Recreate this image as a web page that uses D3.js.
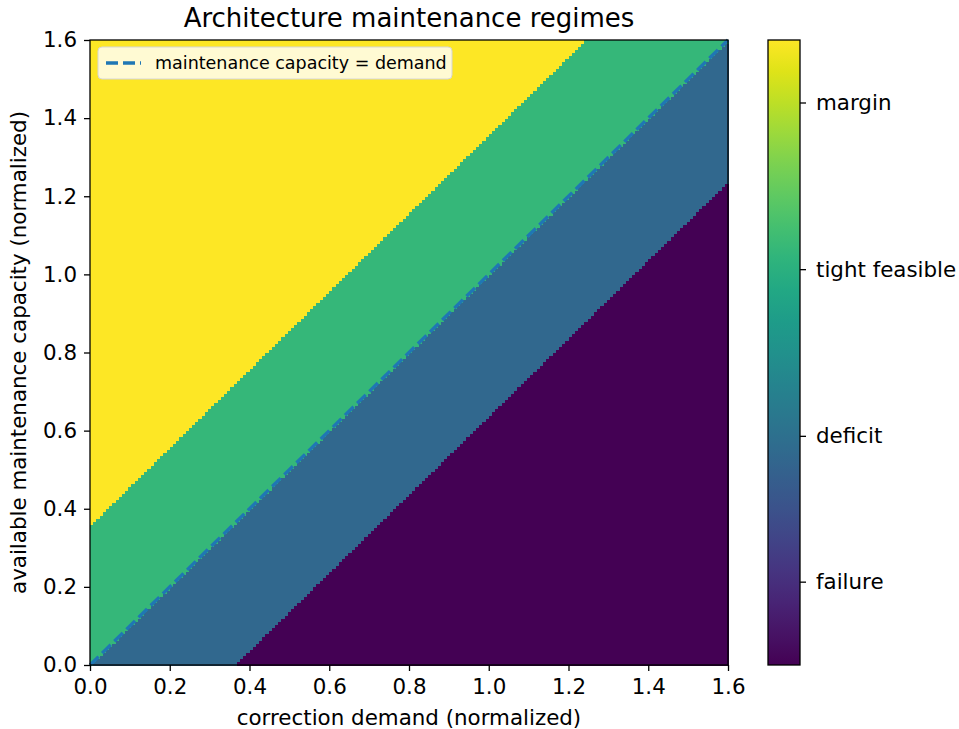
<!DOCTYPE html>
<html>
<head>
<meta charset="utf-8">
<script src="https://cdn.jsdelivr.net/npm/d3@7"></script>
<style>
    body { margin: 0; background: #fff; }
    text { font-family: "DejaVu Sans", sans-serif; fill: #000; }
</style>
</head>
<body>
<script>
// regimes, from worst to best
let regimeNames = ["failure", "deficit", "tight feasible", "margin"];
// colour index of each regime (0..3, viridis)
let regimeValues = [0, 1, 2, 3];
// capacity - demand thresholds between the regimes
let regimeThresholds = [-0.36, 0, 0.36];
// where the colorbar ticks sit (colorbar value units)
let cbarTickValues = [0.125, 1, 2, 3];
let axisTicks = [0.0, 0.2, 0.4, 0.6, 0.8, 1.0, 1.2, 1.4, 1.6];
let gridSize = 200;
let axisMax = 1.6;

let w = 959,
    h = 729;

let svg = d3.select("body")
    .append("svg")
    .attr("width", w)
    .attr("height", h);

let plotLeft = 90, plotRight = 728, plotTop = 40, plotBottom = 665;
let tickFont = "21.4px";

let x = d3.scaleLinear().domain([0, axisMax]).range([plotLeft, plotRight]);
let y = d3.scaleLinear().domain([0, axisMax]).range([plotBottom, plotTop]);
let color = d3.scaleSequential(d3.interpolateViridis).domain([0, 3]);

let step = axisMax / gridSize;
// thresholds in whole grid cells, so the steps come out even
let cellThresholds = regimeThresholds.map(function(t) { return Math.round(t / step); });

function regimeOf(i, j) {
    let diff = j - i;
    let r = 0;
    cellThresholds.forEach(function(t) {
        if (diff >= t) r++;
    });
    return regimeValues[r];
}

// build the grid row by row, merging runs of equal regime
let runs = [];
for (let j = 0; j < gridSize; j++) {
    let start = 0;
    let cur = regimeOf(0, j);
    for (let i = 1; i <= gridSize; i++) {
        let r = i < gridSize ? regimeOf(i, j) : -1;
        if (r !== cur) {
            runs.push({ x0: start * step, x1: i * step, y0: j * step, y1: (j + 1) * step, v: cur });
            start = i;
            cur = r;
        }
    }
}

svg.append("g")
    .attr("shape-rendering", "crispEdges")
    .selectAll("rect")
    .data(runs)
    .enter()
    .append("rect")
    .attr("x", function(d) { return x(d.x0); })
    .attr("width", function(d) { return x(d.x1) - x(d.x0) + 0.5; })
    .attr("y", function(d) { return y(d.y1); })
    .attr("height", function(d) { return y(d.y0) - y(d.y1) + 0.5; })
    .style("fill", function(d) { return color(d.v); });

// capacity = demand line
svg.append("line")
    .attr("x1", x(0)).attr("y1", y(0))
    .attr("x2", x(axisMax)).attr("y2", y(axisMax))
    .style("stroke", "#1f77b4")
    .style("stroke-width", 3.3)
    .style("stroke-dasharray", "12,5");

// axes
let xAxis = d3.axisBottom(x).tickValues(axisTicks).tickFormat(d3.format(".1f")).tickSize(6).tickPadding(8);
let yAxis = d3.axisLeft(y).tickValues(axisTicks).tickFormat(d3.format(".1f")).tickSize(6).tickPadding(7);

let gx = svg.append("g")
    .attr("transform", "translate(0," + plotBottom + ")")
    .call(xAxis);
let gy = svg.append("g")
    .attr("transform", "translate(" + plotLeft + ",0)")
    .call(yAxis);
[gx, gy].forEach(function(g) {
    g.select(".domain").remove();
    g.selectAll("line").style("stroke", "#000").style("stroke-width", 1.3);
    g.selectAll("text").style("font-size", tickFont).style("font-family", "DejaVu Sans");
});

svg.append("rect")
    .attr("x", plotLeft).attr("y", plotTop)
    .attr("width", plotRight - plotLeft).attr("height", plotBottom - plotTop)
    .style("fill", "none")
    .style("stroke", "#000")
    .style("stroke-width", 1.3);

// legend
let legend = svg.append("g");
legend.append("rect")
    .attr("x", 98).attr("y", 47)
    .attr("width", 354).attr("height", 32)
    .attr("rx", 4)
    .style("fill", "#ffffff")
    .style("fill-opacity", 0.8)
    .style("stroke", "#d6d6d6")
    .style("stroke-width", 1);
legend.append("line")
    .attr("x1", 106).attr("x2", 141)
    .attr("y1", 63).attr("y2", 63)
    .style("stroke", "#1f77b4")
    .style("stroke-width", 3.3)
    .style("stroke-dasharray", "12,5");
legend.append("text")
    .attr("x", 155).attr("y", 69)
    .style("font-size", "17.5px")
    .text("maintenance capacity = demand");

// labels
svg.append("text")
    .attr("text-anchor", "middle")
    .attr("x", (plotLeft + plotRight) / 2)
    .attr("y", 27)
    .style("font-size", "26px")
    .text("Architecture maintenance regimes");

svg.append("text")
    .attr("text-anchor", "middle")
    .attr("x", (plotLeft + plotRight) / 2)
    .attr("y", 725)
    .style("font-size", tickFont)
    .text("correction demand (normalized)");

svg.append("text")
    .attr("text-anchor", "middle")
    .attr("transform", "translate(26," + ((plotTop + plotBottom) / 2) + ") rotate(-90)")
    .style("font-size", tickFont)
    .text("available maintenance capacity (normalized)");

// colorbar
let cbLeft = 768, cbRight = 800;
let cb = d3.scaleLinear().domain([-0.375, 3.375]).range([plotBottom, plotTop]);
let defs = svg.append("defs");
let grad = defs.append("linearGradient")
    .attr("id", "viridisGrad")
    .attr("x1", "0").attr("y1", "1")
    .attr("x2", "0").attr("y2", "0");
d3.range(0, 1.0001, 0.05).forEach(function(t) {
    grad.append("stop")
        .attr("offset", t)
        .attr("stop-color", d3.interpolateViridis(t));
});
svg.append("rect")
    .attr("x", cbLeft).attr("y", plotTop)
    .attr("width", cbRight - cbLeft).attr("height", plotBottom - plotTop)
    .style("fill", "url(#viridisGrad)")
    .style("stroke", "#000")
    .style("stroke-width", 1.3);

let cbAxis = d3.axisRight(cb)
    .tickValues(cbarTickValues)
    .tickFormat(function(d, i) { return regimeNames[i]; })
    .tickSize(6)
    .tickPadding(10);
let gc = svg.append("g")
    .attr("transform", "translate(" + cbRight + ",0)")
    .call(cbAxis);
gc.select(".domain").remove();
gc.selectAll("line").style("stroke", "#000").style("stroke-width", 1.3);
gc.selectAll("text").style("font-size", tickFont).style("font-family", "DejaVu Sans");
</script>
</body>
</html>
